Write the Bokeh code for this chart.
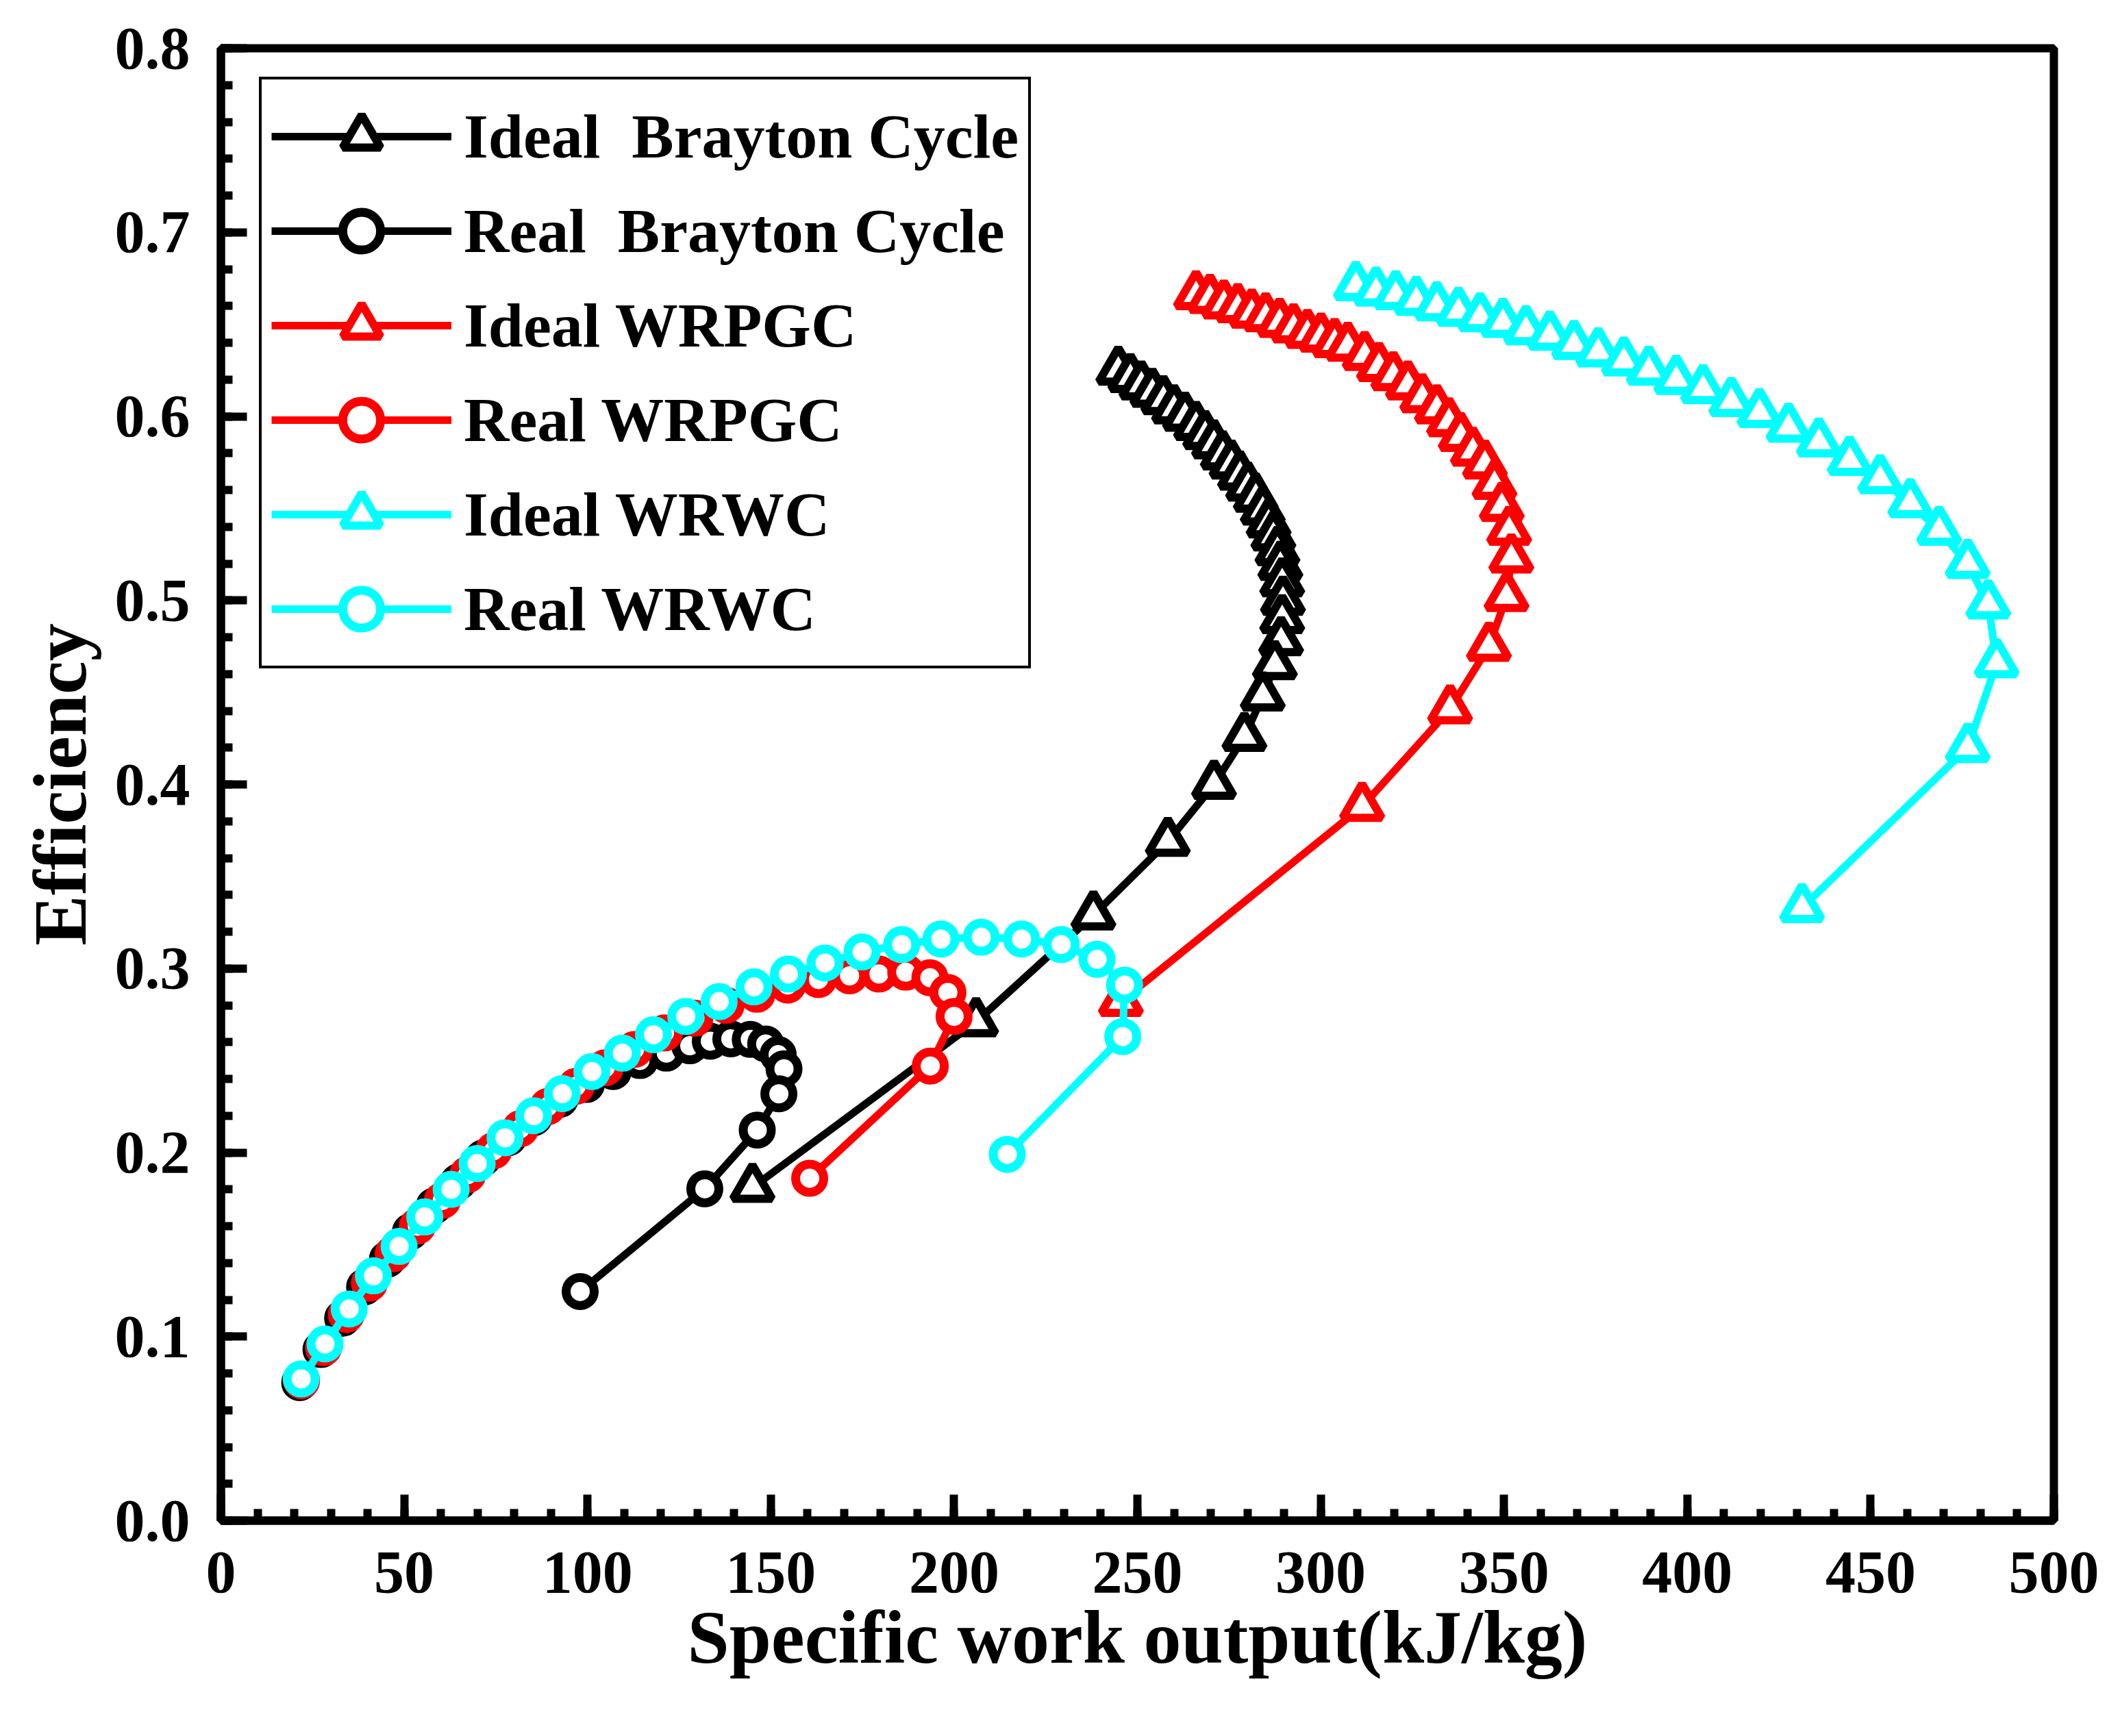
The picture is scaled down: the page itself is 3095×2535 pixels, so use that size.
from bokeh.plotting import figure
from bokeh.models import Legend, LegendItem, SingleIntervalTicker, PrintfTickFormatter, Range1d
from bokeh.embed import file_html
from bokeh.resources import INLINE

# ---- data ----
# Ideal Brayton Cycle (black triangles)
ib_x = [244.8, 248.1, 251.1, 254.1, 257.1, 260.0, 263.0, 266.0, 268.5, 270.9, 273.3, 275.7,
        278.0, 280.2, 282.3, 284.2, 285.8, 287.1, 288.2, 289.0, 289.5, 289.7, 289.5, 289.2,
        287.5, 284.2, 279.2, 270.9, 258.3, 238.0, 206.0, 145.0]
ib_y = [0.625, 0.621, 0.617, 0.613, 0.609, 0.604, 0.600, 0.595, 0.590, 0.585, 0.579, 0.574,
        0.568, 0.562, 0.556, 0.549, 0.542, 0.535, 0.527, 0.519, 0.510, 0.500, 0.490, 0.478,
        0.465, 0.448, 0.426, 0.400, 0.369, 0.329, 0.271, 0.181]

# Real Brayton Cycle (black circles)
rb_x = [21.5, 27.3, 33.2, 39.2, 45.4, 51.7, 58.2, 64.8, 71.5, 78.4, 85.4, 92.5, 99.7, 107.0,
        114.3, 121.5, 127.9, 133.5, 139.1, 144.4, 148.6, 152.0, 153.6, 152.2, 146.3, 132.0, 98.0]
rb_y = [0.075, 0.093, 0.110, 0.127, 0.142, 0.157, 0.171, 0.184, 0.197, 0.208, 0.219, 0.229,
        0.237, 0.244, 0.250, 0.254, 0.258, 0.2605, 0.2618, 0.2615, 0.259, 0.2532, 0.2455,
        0.2319, 0.2122, 0.1803, 0.1245]

# Ideal WRPGC (red triangles)
ip_x = [266.0, 269.8, 273.6, 277.4, 281.2, 285.0, 288.8, 292.6, 296.4, 300.1, 303.8, 307.4,
        312.0, 315.9, 319.8, 323.8, 327.7, 331.7, 335.0, 338.2, 341.5, 344.8, 347.4, 349.4,
        351.4, 352.0, 350.7, 345.9, 335.3, 311.3, 245.5]
ip_y = [0.666, 0.664, 0.661, 0.659, 0.656, 0.654, 0.651, 0.648, 0.645, 0.643, 0.640, 0.638,
        0.633, 0.627, 0.622, 0.617, 0.610, 0.604, 0.597, 0.589, 0.581, 0.574, 0.563, 0.551,
        0.538, 0.523, 0.502, 0.475, 0.441, 0.388, 0.282]

# Real WRPGC (red circles)
rp_x = [22.0, 28.0, 34.2, 40.5, 47.0, 53.6, 60.4, 67.3, 74.4, 81.7, 89.2, 96.9, 104.8, 112.8,
        121.0, 129.3, 137.8, 146.2, 154.6, 163.0, 171.5, 179.5, 186.8, 193.4, 198.3, 200.0,
        193.5, 160.6]
rp_y = [0.076, 0.094, 0.112, 0.129, 0.145, 0.160, 0.174, 0.188, 0.201, 0.213, 0.225, 0.236,
        0.246, 0.256, 0.265, 0.273, 0.280, 0.286, 0.291, 0.294, 0.296, 0.297, 0.298, 0.295,
        0.287, 0.274, 0.247, 0.186]

# Ideal WRWC (cyan triangles)
iw_x = [309.6, 315.1, 320.5, 326.1, 331.7, 337.6, 343.5, 349.7, 356.0, 362.5, 369.1, 375.7,
        382.7, 389.5, 397.0, 404.3, 412.0, 419.7, 427.6, 435.9, 444.3, 452.6, 460.8, 468.7,
        476.5, 482.1, 484.4, 476.5, 431.3]
iw_y = [0.671, 0.668, 0.666, 0.663, 0.660, 0.657, 0.654, 0.651, 0.647, 0.644, 0.639, 0.635,
        0.630, 0.625, 0.620, 0.615, 0.608, 0.602, 0.594, 0.586, 0.576, 0.566, 0.553, 0.538,
        0.520, 0.498, 0.466, 0.420, 0.333]

# Real WRWC (cyan circles)
rw_x = [21.9, 28.4, 35.0, 41.6, 48.6, 55.6, 62.8, 69.9, 77.5, 85.3, 93.1, 101.2, 109.5, 118.0,
        126.8, 135.9, 145.4, 154.8, 164.8, 174.9, 185.7, 196.4, 207.4, 218.4, 229.2, 239.0,
        246.5, 246.0, 214.5]
rw_y = [0.077, 0.096, 0.115, 0.133, 0.149, 0.165, 0.180, 0.194, 0.208, 0.220, 0.232, 0.244,
        0.254, 0.264, 0.274, 0.282, 0.290, 0.297, 0.303, 0.309, 0.313, 0.316, 0.317, 0.316,
        0.313, 0.305, 0.291, 0.263, 0.199]

labels = ["Ideal  Brayton Cycle", "Real  Brayton Cycle", "Ideal WRPGC",
          "Real WRPGC", "Ideal WRWC", "Real WRWC"]

FONT = "Liberation Serif"

W, H = 3079, 2519
B_LEFT, B_RIGHT, B_TOP, B_BOTTOM = 322, 81, 70, 299

p = figure(
    width=W, height=H,
    min_border_left=B_LEFT, min_border_right=B_RIGHT,
    min_border_top=B_TOP, min_border_bottom=B_BOTTOM,
    x_range=Range1d(0, 500), y_range=Range1d(0, 0.8),
    output_backend="svg", toolbar_location=None,
)

p.xgrid.visible = False
p.ygrid.visible = False
p.outline_line_color = "black"
p.outline_line_width = 12
p.outline_line_alpha = 1.0
p.background_fill_color = "white"
p.border_fill_color = "white"

p.xaxis.ticker = SingleIntervalTicker(interval=50, num_minor_ticks=5)
p.yaxis.ticker = SingleIntervalTicker(interval=0.1, num_minor_ticks=5)
p.yaxis.formatter = PrintfTickFormatter(format="%.1f")

p.xaxis.axis_label = "Specific work output(kJ/kg)"
p.yaxis.axis_label = "Efficiency"

for ax in (p.xaxis, p.yaxis):
    ax.axis_line_width = 12
    ax.axis_line_color = "black"
    ax.major_tick_in = 38
    ax.major_tick_out = 0
    ax.minor_tick_in = 17
    ax.minor_tick_out = 0
    ax.major_tick_line_width = 12
    ax.minor_tick_line_width = 12
    ax.major_label_text_font = FONT
    ax.major_label_text_font_style = "bold"
    ax.major_label_text_font_size = "88px"
    ax.major_label_text_color = "black"
    ax.axis_label_text_font = FONT
    ax.axis_label_text_font_style = "bold"
    ax.axis_label_text_font_size = "110px"
    ax.axis_label_text_color = "black"

p.xaxis.major_label_standoff = 46
p.yaxis.major_label_standoff = 45
p.xaxis.axis_label_standoff = 2
p.yaxis.axis_label_standoff = 16


def add_series(x, y, color, marker):
    # line first, then white filled markers on top
    ln = p.line(x, y, line_color=color, line_width=11)
    if marker == "circle":
        sc = p.scatter(x, y, marker="circle", size=41, line_color=color,
                       line_width=13, fill_color="white")
    else:
        sc = p.scatter(x, y, marker="triangle", size=57, line_color=color,
                       line_width=12, fill_color="white")
    return [ln, sc]


series = [
    (ib_x, ib_y, "#000000", "triangle"),
    (rb_x, rb_y, "#000000", "circle"),
    (ip_x, ip_y, "#ff0000", "triangle"),
    (rp_x, rp_y, "#ff0000", "circle"),
    (iw_x, iw_y, "#00ffff", "triangle"),
    (rw_x, rw_y, "#00ffff", "circle"),
]

items = []
for (x, y, c, m), lab in zip(series, labels):
    rs = add_series(x, y, c, m)
    items.append(LegendItem(label=lab, renderers=rs))

frame_h = H - B_TOP - B_BOTTOM
legend = Legend(
    items=items,
    location=(56, frame_h - 50 - 856),
    glyph_width=263, glyph_height=138, label_height=138,
    spacing=0, padding=14, label_standoff=18,
    label_text_font=FONT, label_text_font_style="bold",
    label_text_font_size="92px", label_text_color="black",
    border_line_color="black", border_line_width=4, border_line_alpha=1.0,
    background_fill_color="white", background_fill_alpha=1.0,
)
p.add_layout(legend, "center")

open("out.html", "w").write(file_html(p, INLINE))
